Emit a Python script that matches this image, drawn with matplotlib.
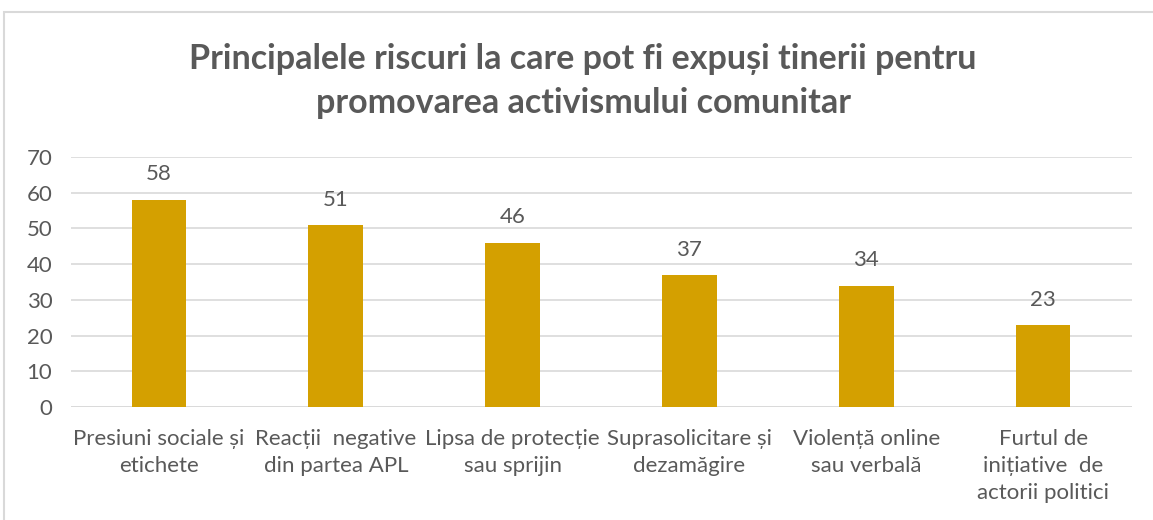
import matplotlib.pyplot as plt
from matplotlib.patches import Rectangle

categories = ['Presiuni sociale și\netichete', 'Reacții  negative\ndin partea APL',
              'Lipsa de protecție\nsau sprijin', 'Suprasolicitare și\ndezamăgire',
              'Violență online\nsau verbală', 'Furtul de\ninițiative  de\nactorii politici']
values = [58, 51, 46, 37, 34, 23]
yticks = [0, 10, 20, 30, 40, 50, 60, 70]

bar_color = '#D4A000'
text_color = '#595959'
grid_color = '#D9D9D9'

plt.rcParams['font.family'] = ['Lato', 'DejaVu Sans']

W, H = 1153, 520
fig = plt.figure(figsize=(W / 100, H / 100), dpi=100)
ax = fig.add_axes([70.5 / W, 1 - 407 / H, (1131.5 - 70.5) / W, 250 / H])

# chart frame (cut off on right and bottom like the screenshot)
fig.patches.append(Rectangle((4 / W, -0.1), 1.2, 1 - 12 / H + 0.1, transform=fig.transFigure,
                             fill=False, edgecolor='#D9D9D9', linewidth=1.5))

x = range(len(categories))
bars = ax.bar(x, values, width=0.31, color=bar_color, zorder=3)
for b, v in zip(bars, values):
    ax.text(b.get_x() + b.get_width() / 2, v + 4.3, str(v), ha='center', va='bottom',
            fontsize=16, color=text_color)

ax.set_xlim(-0.5, len(categories) - 0.5)
ax.set_ylim(0, 70)
ax.set_yticks(yticks)
ax.yaxis.grid(True, color=grid_color, linewidth=1.2, zorder=0)
ax.set_xticks(list(x))
ax.set_xticklabels(categories, fontsize=16, color=text_color, linespacing=1.42)
ax.tick_params(axis='y', length=0, labelsize=16, labelcolor=text_color, pad=13)
ax.tick_params(axis='x', length=0, pad=16)
for s in ax.spines.values():
    s.set_visible(False)
ax.axhline(0, color=grid_color, linewidth=1.2, zorder=2)

fig.text(583 / W, 1 - 81 / H,
         'Principalele riscuri la care pot fi expuși tinerii pentru\npromovarea activismului comunitar',
         ha='center', va='center', fontsize=24.5, fontweight='bold', color=text_color, linespacing=1.45)

fig.savefig('out.png', dpi=100)
